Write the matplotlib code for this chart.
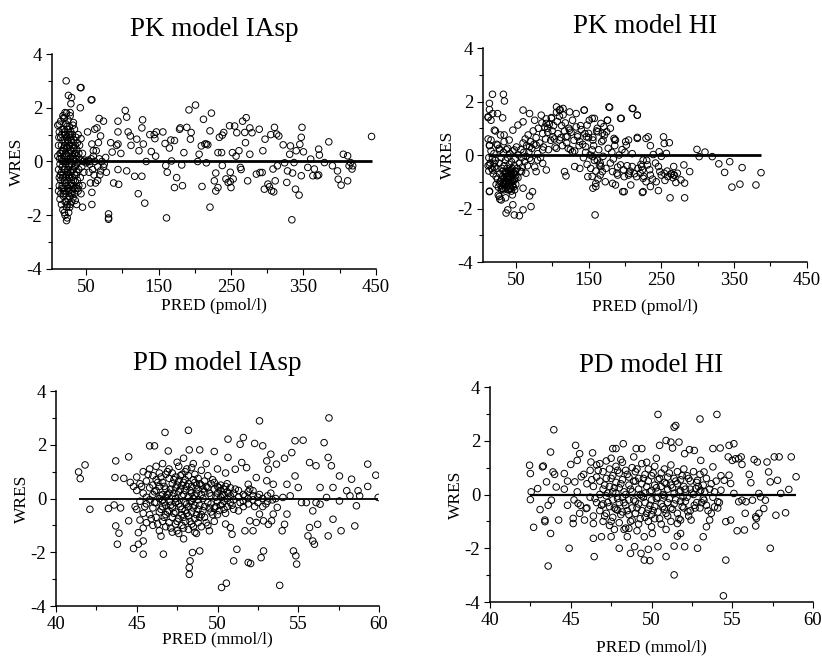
import numpy as np
import matplotlib
matplotlib.use("Agg")
import matplotlib.pyplot as plt
from matplotlib.ticker import MultipleLocator, FixedLocator

plt.rcParams['font.family'] = ['Liberation Serif', 'DejaVu Serif']
plt.rcParams['axes.unicode_minus'] = False

# (PRED, WRES) pairs, one list per panel

pk_iasp_points = [
    # dense cluster at low PRED
    (11, 1.35), (11, 0.2), (12, -0.3), (12, -1.1), (12, 0.6), (13, -0.6), (13, 1.1), (13, -0.9), (14, 0.3), (14, -1.4),
    (14, -0.1), (15, 0.9), (15, -0.7), (15, 1.5), (15, -1.2), (16, 0.1), (16, -0.4), (16, 0.6), (16, -1.6), (17, 1.2),
    (17, -0.2), (17, -0.9), (17, 0.4), (18, -1.8), (18, 0.8), (18, -0.5), (18, 1.7), (19, -1.3), (19, 0.0), (19, 0.5),
    (19, -1.0), (20, 1.6), (20, -0.7), (20, 0.2), (20, -1.9), (20, 1.1), (21, -0.3), (21, -1.5), (21, 0.7), (21, -2.0),
    (22, 1.4), (22, -0.1), (22, -0.8), (22, 0.3), (22, -1.2), (23, 1.8), (23, 0.9), (23, -0.5), (23, -1.7), (23, -2.2),
    (24, 0.0), (24, 1.2), (24, -1.0), (24, 0.5), (24, -2.1), (25, -0.3), (25, 0.75), (25, -1.4), (25, 1.55), (25, -0.7),
    (26, 0.2), (26, -1.1), (26, 1.0), (26, -1.9), (26, -0.2), (27, 0.6), (27, -0.6), (27, 1.3), (27, -1.3), (28, 0.1),
    (28, -0.9), (28, 0.9), (28, -1.6), (28, 1.7), (29, -0.4), (29, 0.4), (29, -1.2), (29, 1.1), (30, -0.8), (30, 0.7),
    (30, -0.1), (30, -1.5), (31, 1.0), (31, 0.2), (31, -0.6), (31, -1.05), (32, 0.5), (32, -0.3), (32, -1.35), (32, 1.35),
    (33, 0.0), (33, -0.9), (33, 0.8), (34, -0.5), (34, 1.2), (34, -1.2), (34, 0.3), (35, -0.15), (35, 0.6), (35, -0.75),
    (35, -1.45), (36, 0.9), (36, -1.0), (36, 0.1), (37, -0.4), (37, 0.45), (37, -1.6), (38, 0.7), (38, -0.7), (38, -0.05),
    (39, 1.0), (39, -1.1), (40, 0.3), (40, -0.3), (40, -0.9), (41, 0.6), (42, -0.6), (42, 0.05), (43, -1.2), (43, 0.85),
    (44, -0.2), (45, 0.3), (45, -0.9), (46, 0.0), (47, -0.4), (48, 0.05), (50, -0.05), (52, 0.0), (53, 0.05), (55, -0.1),
    (57, 0.1), (59, -0.3), (60, 0.2), (61, -0.5), (62, 0.0), (63, -0.8), (64, 0.4), (66, -0.2), (68, 0.1), (70, -0.35),
    (72, 0.0), (75, -0.1), (77, 0.15),
    (12.5, 0.9), (13.5, 0.1), (14.5, -0.5), (15.5, 0.3), (16.5, -1.0), (16.5, 1.0), (17.5, 0.0), (17.5, -0.6), (18.5, 0.4), (18.5, -1.2),
    (19.5, 1.2), (19.5, -0.3), (20.5, 0.6), (20.5, -1.1), (21.5, 0.0), (21.5, 1.0), (21.5, -0.6), (22.5, -1.5), (22.5, 0.5), (23.5, 0.2),
    (23.5, -0.9), (23.5, 1.3), (24.5, -0.4), (24.5, 0.8), (24.5, -1.6), (25.5, 0.3), (25.5, -1.0), (26.5, 0.6), (26.5, -0.5), (27.5, -0.1),
    (27.5, -1.7), (27.5, 1.0), (28.5, 0.4), (28.5, -0.4), (29.5, -0.9), (29.5, 0.8), (30.5, 0.2), (30.5, -1.2), (31.5, -0.3), (31.5, 0.6),
    (32.5, -0.7), (32.5, 0.1), (33.5, -1.0), (33.5, 0.5), (34.5, -0.2), (35.5, 0.3), (36.5, -0.5), (37.5, 0.2), (38.5, -1.0),
    # upper outliers near the cluster
    (22.5, 3.0), (42, 2.75), (25.6, 2.46), (30, 2.38), (29, 2.15), (57, 2.29), (42, 2.0), (21, 1.82), (19, 1.63), (13, 1.39),
    (28, 1.82), (32.5, 1.45),
    # spread out part
    (43, 2.75), (58, 2.3), (52, 1.1), (62, 1.2), (65, 1.25), (68, 1.6), (74, 1.5), (70, 0.95), (58, 0.65),
    (60, 0.4), (67, 0.7), (55, 0.0), (54, -0.4), (56, -0.8), (58, -1.15), (58, -1.6), (45, -1.7), (66, -0.7), (69, -0.5),
    (74, -0.2), (78, -0.4), (81, -1.95), (81, -2.15), (81, -2.1), (84, 0.7), (86, 0.35), (88, -0.8), (94, 1.5), (94, 1.1),
    (94, 0.65), (94, -0.3), (95, -0.85), (92, 0.6), (98, 0.3),
    (104, 1.9), (106, 1.65), (108, 1.1), (111, 0.95), (112, 0.6), (106, -0.35), (117, -0.55), (122, -1.2), (120, 0.83), (123, 0.4),
    (127, 1.25), (128, 1.55), (129, 0.65), (127, -0.55), (131, -1.55), (133, 0.0), (138, 1.0), (140, 0.37), (144, 1.0), (145, 0.85),
    (146, 0.2), (147, 1.1),
    (156, 1.1), (159, 0.67), (160, -0.15), (162, -0.4), (161, -2.1), (165, 0.5), (167, 0.8), (168, 0.02), (172, 0.78), (172, -0.97),
    (175, -0.6), (179, 1.2), (180, 1.25), (182, -0.13), (183, -0.9), (185, 0.33), (189, 1.27), (192, 1.92), (194, 0.83), (195, 1.08),
    (201, 2.1), (204, 0.0), (206, 0.27), (209, 0.58), (210, -0.93), (212, 1.57), (214, 0.65), (216, 0.65), (218, 0.62), (221, 1.14),
    (221, -1.7), (223, 1.8), (216, -0.05), (227, -0.72), (229, -0.43), (229, -1.1), (232, 0.33), (232, -0.97), (234, 0.9), (237, 0.33),
    (238, -0.15), (238, 0.98), (240, 1.08), (243, -0.65), (246, -0.78),
    (248, 1.33), (249, -0.4), (249, -0.75), (250, -0.97), (252, 0.33), (253, -0.65), (255, 1.32), (257, 0.2), (258, 1.07), (261, 0.4),
    (263, -0.22), (264, -0.3), (266, 1.5), (269, 1.08), (270, 0.7), (271, 1.63), (273, -0.72), (276, 0.27), (276, 1.25), (279, 1.07),
    (285, -0.47), (289, 1.2), (290, -0.41), (293, -0.41), (294, 0.4), (296, -1.03), (297, 0.83), (301, -0.84), (303, -0.94), (305, 1.0),
    (306, -1.09), (308, -0.28), (309, -1.13), (310, 1.27), (311, -0.72), (313, 1.02), (316, 0.95), (314, -0.16), (322, 0.62), (324, -0.05),
    (327, -0.78), (328, -0.35), (331, 0.27), (332, 0.58), (334, -2.17), (335, -0.43), (337, -0.04), (339, -1.03), (340, 0.4), (344, -1.25),
    (345, 0.64), (347, 0.9), (348, 1.27), (347, -0.53), (350, 0.36),
    (356, -0.22), (360, 0.09), (363, -0.53), (365, -0.28), (369, -0.53), (371, 0.46), (372, 0.24), (371, -0.5), (379, -0.04), (385, 0.73),
    (390, -0.16), (397, -0.35), (398, -0.66), (402, -0.88), (405, 0.27), (411, -0.72), (411, 0.21), (413, -0.16), (415, -0.04), (417, -0.28),
    (418, -0.16), (444, 0.93),
]

pk_hi_points = [
    # low PRED spread
    (12, 0.6), (12, -0.4), (12, 1.4), (13, -0.1), (13, -0.6), (14, 0.35), (14, -1.35), (15, -0.3), (16, 0.15), (17, -0.5),
    (18, -0.15), (19, -0.7), (20, 0.05), (21, -0.45), (22, 0.9), (23, -1.1), (24, 0.4), (26, -1.5), (27, 0.25), (28, -1.65),
    (29, 0.75), (31, -1.25), (34, 0.5), (36, -1.6),
    (18, 2.27), (33, 2.27), (34.4, 2.02), (13.8, 1.93), (13.8, 1.7), (18.3, 1.55), (25, 1.55), (32, 1.39), (16, 1.3), (12, 1.43),
    (20.6, 0.93), (34, 0.75), (16, 0.56), (13.8, 0.37), (25, 0.37), (41, 0.56), (46, 0.93), (53, 1.12), (60, 1.24), (60, 1.68),
    (69, 1.55), (76, 1.3), (85, 1.49), (92, 1.18), (99, 1.37), (106, 1.8), (110, 1.68), (115, 1.74), (124, 1.61), (133, 1.55),
    (144, 1.68), (151, 1.3), (158, 1.37), (167, 1.18), (176, 1.3), (178, 1.8), (194, 1.37), (210, 1.74), (217, 1.49), (94, 1.0),
    (101, 0.68), (110, 0.56), (119, 0.68), (124, 0.93), (135, 0.68), (138, 0.5), (147, 0.68), (156, 0.56), (163, 0.87), (170, 0.56),
    (186, 0.56), (201, 0.5), (217, 0.62), (229, 0.62), (69, 0.31), (78, 0.37), (87, 0.19), (106, 0.25), (122, 0.25), (128, 0.12),
    (48, 0.19), (39, 0.25), (28, 0.19), (13.8, -0.37), (20.6, -0.31), (18.3, -0.56), (23, -0.81), (27.5, -1.06), (32, -1.24), (39, -0.93),
    (36.7, -0.62), (43, -0.68), (50, -0.87), (43, -1.24), (45.4, -1.49), (27.5, -1.55), (30, -1.68), (13.8, -1.37), (39, -2.05), (36.7, -2.17),
    (48, -2.24), (55, -2.27), (60, -2.05), (46, -1.86), (71, -1.93), (69, -1.53), (73, -1.37), (60, -1.24), (58, -0.62), (64, -0.68),
    (78, -0.62), (92, -0.56), (87, -0.31), (80, -0.19), (69, -0.12), (117, -0.62), (119, -0.78), (131, -0.43), (138, -0.5), (149, -0.81),
    (160, -1.06), (156, -1.24), (165, -0.37), (183, -0.62), (190, -0.75), (187, -1.12), (205, -0.75), (216, -0.81), (224, -0.56), (199, -1.37),
    (225, -1.37),
    # dense mass
    (22, -0.2), (24, -0.5), (25, -0.9), (26, -1.2), (27, -0.3), (28, -0.7), (29, -1.0), (30, -1.3), (30, -0.1), (31, -0.5),
    (32, -0.8), (33, -1.1), (33, 0.1), (34, -0.4), (35, -0.65), (35, -0.95), (36, -1.25), (36, -0.2), (37, -0.8), (37, 0.2),
    (38, -0.5), (38, -1.0), (39, -1.3), (39, -0.1), (40, -0.7), (40, -0.9), (41, -1.15), (41, -0.35), (42, -0.6), (42, 0.05),
    (43, -0.85), (43, -1.05), (44, -0.25), (44, -1.35), (45, -0.75), (45, -0.5), (46, -1.0), (46, 0.15), (47, -0.65), (47, -1.2),
    (48, -0.4), (48, -0.9), (49, -0.15), (50, -0.75), (50, -1.1), (51, 0.3), (52, -0.5), (53, -0.85), (54, 0.0), (55, -0.3),
    (56, -0.6), (57, 0.2), (58, -0.1), (59, -0.45), (60, 0.45), (61, 0.1), (62, -0.25), (63, 0.6), (64, -0.05), (65, 0.35),
    (66, -0.4), (67, 0.75), (68, 0.1), (70, 0.5), (71, -0.2), (72, 0.25), (74, 0.9), (75, 0.4), (76, -0.45), (78, 0.65),
    (80, 0.05), (81, 1.0), (83, 0.45), (84, -0.1), (86, 1.2), (87, 0.8), (88, 0.3), (90, 1.05), (91, 0.6), (92, 1.35),
    (94, 0.85), (95, 0.2), (96, 1.15), (98, 0.55), (99, 1.4), (100, 0.9), (102, 1.1), (103, 0.6), (104, 0.3), (106, 1.6),
    (107, 1.25), (108, 0.8), (110, 1.45), (111, 1.7), (112, 0.65), (113, 1.1), (114, 0.35), (115, 1.5), (117, 0.9), (118, 1.2),
    (120, 0.45), (121, 0.7), (123, 1.0), (125, 0.2), (126, 0.85), (128, 1.3), (130, 0.55), (131, 0.15), (133, 1.05), (135, 0.75),
    (137, 0.35), (139, 1.1), (140, 0.95), (142, 0.4), (143, -0.1), (145, 0.8), (146, 0.1), (148, -0.35), (150, 0.65), (152, 0.0),
    (153, -0.5), (155, -0.8), (157, 0.35), (158, -0.2), (160, -0.6), (161, 0.9), (163, -0.9), (164, 0.2), (166, -0.3), (168, 0.5),
    (170, -0.05), (172, 0.75), (174, -0.5), (177, 0.25), (180, -0.3), (182, 0.1), (184, -0.15), (186, 0.35), (190, -0.45), (192, 0.0),
    (196, 0.2), (198, -0.55), (200, 0.1), (203, -0.4), (207, -0.6), (210, 0.05), (213, -0.7), (218, -0.5), (222, -0.35), (226, -0.8),
    (230, -0.2), (234, -0.55), (238, -0.9), (242, -0.3), (250, -0.05), (255, -0.95), (258, -0.6), (264, -0.7), (266, -0.85), (268, -0.75),
    (30.5, -0.9), (31.5, -1.15), (32.5, -0.6), (33.5, -1.3), (34.5, -0.85), (35.5, -1.1), (36.5, -0.7), (37.5, -1.2), (38.5, -0.9), (39.5, -0.6),
    (40.5, -1.05), (41.5, -0.8), (42.5, -1.25), (43.5, -0.55), (44.5, -0.95), (45.5, -1.15), (46.5, -0.7), (47.5, -0.95), (48.5, -1.3), (49.5, -0.6),
    (37, -1.0), (41, -1.3), (44, -0.7), (34, -1.0), (39, -0.8),
    # right part
    (156, 0.66), (179, 1.78), (211, 1.74), (217, 1.49), (195, 1.37), (176, 1.3), (180, 1.0), (185, 0.62), (187, 0.56), (202, 0.37),
    (205, 0.56), (217, 0.66), (232, 0.68), (235, 0.35), (247, 0.12), (253, 0.68), (254, 0.43), (261, 0.46), (257, 0.06), (267, -0.43),
    (272, -0.68), (262, -1.6), (282, -1.6), (282, -1.05), (281, -0.37), (289, -0.62), (299, 0.21), (302, -0.06), (310, 0.11), (320, -0.06),
    (329, -0.33), (337, -0.65), (344, -0.25), (347, -1.2), (358, -1.09), (361, -0.47), (380, -1.12), (387, -0.66), (246, -0.43), (248, -0.62),
    (243, -1.0), (246, -1.33), (235, -1.18), (229, -1.0), (224, -1.4), (208, -1.12), (197, -1.37), (221, -0.68), (223, -0.43), (210, -0.43),
    (206, -0.68), (199, -0.81), (194, -0.37), (189, -0.68), (183, -1.06), (173, -1.0), (169, -0.62), (166, -0.75), (160, -1.18), (159, -2.24),
    (167, -0.43), (162, -0.19), (156, -0.06), (155, 0.19), (146, 0.31), (150, 0.81), (148, 1.12), (144, 1.68), (155, 1.37), (162, 1.0),
    (169, 0.81), (171, 1.06), (175, 0.87), (225, -0.19), (239, 0.02), (254, -0.68), (259, -0.81), (267, -0.75), (277, -0.93), (270, -1.03),
    (263, -0.71), (250, -0.75), (235, -0.75), (231, -0.37), (225, -0.87),
]

pd_iasp_points = [
    # sparse points
    (41.4, 0.99), (41.5, 0.74), (41.8, 1.25), (42.1, -0.4), (43.25, -0.37), (43.6, -0.24), (43.7, 1.4), (43.65, 0.78), (43.7, -1.02), (43.9, -1.29),
    (43.8, -1.7), (44.5, 1.55), (44.5, -0.83), (44.8, -1.86), (45.1, -1.7), (45.4, -2.07), (45.1, -1.27), (45.4, -1.58), (45.8, 1.96), (46.1, 1.96),
    (46.65, -2.07), (46.75, 2.46), (46.95, 1.77), (48.2, 2.54), (48.25, 1.81), (48.3, -2.32), (48.25, -2.57), (48.25, -2.82), (48.45, -2.01), (48.9, 1.81),
    (48.9, -1.95), (49.8, 1.75), (50.25, -3.31), (50.55, -3.15), (50.65, 2.21), (50.65, 1.53), (51.0, -2.32), (51.2, -1.89), (51.4, 2.02), (51.6, 2.27),
    (51.9, -2.38), (52.05, -2.42), (52.3, 2.05), (52.6, 2.89), (52.8, 1.96), (52.85, -1.95), (52.7, -2.2), (53.05, 1.4), (53.3, 1.65), (53.85, -3.23),
    (54.15, 1.5), (54.6, 1.71), (54.8, 2.15), (54.7, -1.95), (54.85, -2.13), (54.9, -2.44), (55.3, 2.17), (55.6, -1.39), (55.7, -1.08), (55.9, -1.58),
    (56.0, -1.7), (55.7, 1.34), (56.1, 1.22), (56.6, 2.08), (56.85, 1.53), (56.9, 3.0), (56.85, -1.39), (57.05, 1.22), (57.15, -0.77), (57.55, 0.84),
    (57.65, -1.2), (58.3, 0.72), (58.5, -1.02), (58.7, 0.29), (59.3, 1.28), (59.3, 0.45), (59.8, 0.87), (59.95, 0.04), (58.8, 0.1), (58.6, -0.27),
    (58.2, 0.1), (58.0, 0.29), (57.55, -0.09), (57.15, 0.41), (56.75, 0.04), (56.35, -0.21), (56.2, -0.96), (56.35, 0.41), (56.1, -0.15), (55.9, -0.46),
    (55.5, -0.15), (55.2, -0.15), (55.0, 0.41), (54.8, 0.84), (54.5, 0.1), (54.3, 0.53), (54.05, 0.04), (54.3, -0.58), (54.15, -0.96), (54.0, -1.2),
    (53.7, -0.33), (53.45, -0.58), (53.35, -0.83), (53.15, -0.96), (52.85, -0.83), (52.6, -0.58), (52.4, -0.89), (52.2, -1.2), (52.0, -0.83), (51.7, -1.2),
    (52.2, 0.29), (51.9, 0.53), (52.4, 0.78), (53.05, 0.66), (53.45, 0.53), (53.65, 1.28), (53.15, 1.09), (51.8, 1.15), (51.5, 1.34), (51.1, 1.09),
    (51.3, -0.46), (50.8, -1.08), (50.9, -1.33),
    (44.6, 0.6), (44.8, 0.45), (44.9, -0.3), (44.2, 0.75), (44.0, -0.35),
    # dense core
    (45.0, 0.3), (45.0, -0.4), (45.0, 0.8), (45.2, -0.1), (45.2, 0.55), (45.2, -0.8), (45.4, 0.2), (45.4, -0.55), (45.4, 1.0), (45.4, -1.1),
    (45.6, 0.65), (45.6, -0.2), (45.6, 0.05), (45.6, -0.9), (45.8, 0.4), (45.8, -0.6), (45.8, 1.1), (45.8, -0.05), (46.0, 0.85), (46.0, 0.15),
    (46.0, -0.35), (46.0, -1.0), (46.0, 0.5), (46.2, -0.7), (46.2, 0.3), (46.2, 1.2), (46.2, -0.15), (46.2, 0.7), (46.4, 0.0), (46.4, -0.5),
    (46.4, 0.95), (46.4, -1.2), (46.4, 0.45), (46.6, 0.6), (46.6, -0.3), (46.6, 0.15), (46.6, -0.85), (46.6, 1.3), (46.6, -0.05), (46.8, -0.6),
    (46.8, 0.35), (46.8, 0.9), (46.8, -1.05), (46.8, 0.05), (46.8, -0.25), (47.0, 0.75), (47.0, -0.45), (47.0, 0.2), (47.0, -0.9), (47.0, 1.1),
    (47.0, -0.1), (47.2, 0.1), (47.2, -0.7), (47.2, 0.55), (47.2, -1.25), (47.2, 0.95), (47.2, -0.35), (47.4, -0.15), (47.4, 0.4), (47.4, -0.95),
    (47.4, 0.8), (47.4, -0.5), (47.4, 0.0), (47.6, 0.65), (47.6, -1.3), (47.6, -0.2), (47.6, 0.25), (47.6, -0.75), (47.6, 1.2), (47.8, -0.4),
    (47.8, 0.1), (47.8, 0.5), (47.8, -1.0), (47.8, 0.9), (47.8, -0.6), (48.0, 0.3), (48.0, -0.15), (48.0, -0.85), (48.0, 0.7), (48.0, 1.0),
    (48.0, -0.45), (48.2, -0.3), (48.2, 0.55), (48.2, -1.15), (48.2, 0.05), (48.2, 0.85), (48.2, -0.65), (48.4, 0.2), (48.4, -0.5), (48.4, 0.45),
    (48.4, -0.95), (48.4, 1.15), (48.4, -0.1), (48.6, -0.25), (48.6, 0.6), (48.6, -0.75), (48.6, 0.1), (48.6, -1.25), (48.6, 0.9), (48.8, 0.35),
    (48.8, -0.4), (48.8, 0.75), (48.8, -0.05), (48.8, -0.9), (49.0, -0.6), (49.0, 0.15), (49.0, 0.5), (49.0, -1.05), (49.0, 1.05), (49.2, 0.25),
    (49.2, -0.3), (49.2, -0.7), (49.2, 0.65), (49.4, -0.15), (49.4, 0.4), (49.4, -1.0), (49.4, 0.85), (49.6, 0.1), (49.6, -0.5), (49.6, 0.55),
    (49.6, -0.2), (49.8, 0.35), (49.8, -0.35), (49.8, -0.85), (49.8, 0.6), (50.0, -0.1), (50.0, 0.2), (50.0, 0.45), (50.0, -0.6), (50.2, 0.3),
    (50.2, -0.25), (50.2, 0.05), (50.2, 0.5), (50.4, -0.4), (50.4, 0.15), (50.4, 0.35), (50.4, -0.1), (50.6, 0.25), (50.6, -0.3), (50.6, 0.55),
    (50.6, 0.0), (50.8, 0.1), (50.8, -0.15), (50.8, 0.4), (51.0, 0.2), (51.0, -0.05), (51.0, -0.4), (51.3, 0.05), (51.3, 0.3), (51.6, -0.1),
    (51.6, 0.15), (51.6, -0.3), (51.9, 0.0), (51.9, -0.2), (51.9, 0.25), (52.2, -0.05), (52.2, 0.1), (52.5, -0.15), (52.5, 0.05), (52.8, 0.0),
    (52.8, -0.3), (53.1, -0.1), (53.1, 0.1), (53.4, -0.05),
    (45.3, 0.45), (45.5, -0.3), (45.7, 0.9), (45.9, -0.75), (46.1, 0.25), (46.1, -0.15), (46.3, 0.6), (46.3, -0.95), (46.5, 0.1), (46.5, -0.4),
    (46.5, 0.8), (46.7, -0.7), (46.7, 0.45), (46.7, -0.15), (46.9, 1.0), (46.9, -0.5), (46.9, 0.15), (47.1, -1.1), (47.1, 0.35), (47.1, -0.25),
    (47.3, 0.7), (47.3, -0.55), (47.3, 0.2), (47.5, -0.85), (47.5, 0.5), (47.5, -0.1), (47.5, -1.2), (47.7, 0.35), (47.7, -0.3), (47.7, 0.85),
    (47.9, -0.7), (47.9, 0.15), (47.9, -1.1), (47.9, 0.6), (48.1, -0.2), (48.1, 0.45), (48.1, -0.55), (48.1, 1.1), (48.3, -0.85), (48.3, 0.3),
    (48.3, -0.1), (48.5, 0.7), (48.5, -0.35), (48.5, -1.05), (48.5, 0.0), (48.7, 0.5), (48.7, -0.6), (48.7, 0.2), (48.9, -0.25), (48.9, 0.55),
    (48.9, -0.7), (49.1, 0.35), (49.1, -0.45), (49.1, 0.0), (49.3, -0.9), (49.3, 0.45), (49.5, 0.2), (49.5, -0.35), (49.7, 0.7), (49.7, -0.6),
    (49.9, 0.05), (49.9, -0.3), (50.1, 0.4), (50.1, -0.45), (50.3, 0.15), (50.3, -0.2), (50.5, 0.45), (50.5, -0.55), (50.7, 0.2), (50.9, -0.25),
    (51.1, 0.35), (51.4, -0.15), (51.7, 0.1), (52.0, 0.35), (52.3, -0.3), (52.6, 0.15), (53.0, -0.2), (53.3, 0.2), (53.6, 0.0), (47.5, 1.35),
    (47.9, 1.5), (48.5, 1.3), (46.5, -1.4), (47.9, -1.5), (48.7, -1.3), (49.5, -1.2), (49.3, 1.3), (50.0, 1.1), (50.5, 0.95), (50.5, -0.95),
]

pd_hi_points = [
    # sparse points
    (42.45, 1.09), (42.5, 0.78), (42.5, -0.19), (42.55, 0.1), (42.7, -1.22), (42.95, 0.22), (43.1, -0.56), (43.25, 1.03), (43.3, 1.06), (43.4, -0.95),
    (43.4, -1.01), (43.5, 0.47), (43.6, -0.4), (43.6, -2.66), (43.75, -1.45), (43.75, 1.58), (43.8, -0.21), (43.9, 0.84), (43.95, 2.41), (44.0, 0.75),
    (44.1, 0.28), (44.25, -0.95), (44.6, 0.78), (44.8, -0.4), (44.9, -2.0), (45.0, 1.12), (45.15, -1.08), (45.15, -0.89), (45.25, 0.47), (45.3, 1.83),
    (45.4, 1.27), (45.55, 1.52), (45.45, -0.33), (45.55, -0.7), (45.65, 0.66), (45.85, -0.95), (45.95, -0.52), (46.25, 1.21), (46.35, 1.55), (46.4, -1.63),
    (46.45, -2.31), (46.4, -1.08), (46.8, 1.15), (46.9, -1.57), (47.5, -1.57), (47.6, 1.71), (47.8, 1.71), (47.9, -0.58), (48.0, -2.0), (48.25, 1.89),
    (48.5, -1.57), (48.6, -1.26), (48.7, -2.19), (48.95, -1.94), (49.05, 1.71), (49.35, -2.19), (49.4, 1.71), (49.55, -2.44), (49.8, -2.04), (49.9, -2.46),
    (49.55, -1.57), (50.05, -1.45), (50.4, 2.98), (50.4, -1.94), (50.5, 1.83), (50.9, -2.31), (50.9, 2.01), (51.2, 1.95), (51.3, 1.73), (51.4, 2.51),
    (51.5, 2.57), (51.7, 1.95), (51.4, -2.99), (51.4, -1.92), (51.6, -1.55), (51.8, -1.45), (52.05, -1.94), (52.05, 1.52), (52.35, 1.67), (52.65, 1.64),
    (52.85, -2.0), (53.0, 2.81), (52.75, 0.22), (53.05, 1.27), (53.25, 0.84), (53.8, 1.03), (53.8, 1.71), (54.05, 2.98), (54.25, 1.73), (54.6, -2.44),
    (54.45, -3.77), (54.6, -1.01), (54.75, 1.4), (54.8, 1.83), (54.8, 0.72), (54.9, -0.95), (55.0, 1.27), (55.1, 1.89), (55.2, 1.33), (55.3, -1.35),
    (55.4, 1.33), (55.55, 1.4), (55.6, 1.12), (55.75, -1.32), (55.8, -0.7), (55.85, -0.27), (56.05, 0.75), (56.15, 0.44), (56.25, -0.21), (56.35, 1.3),
    (56.45, -0.83), (56.5, -0.89), (56.45, -1.17), (56.55, 1.21), (56.65, 0.04), (56.65, -0.7), (56.75, -0.09), (56.95, -0.52), (57.05, -0.21), (57.15, 1.21),
    (57.25, 0.84), (57.35, 0.47), (57.35, -2.0), (57.6, 1.4), (57.7, -0.77), (57.8, 0.53), (57.9, 1.4), (58.0, 0.04), (58.3, -0.68), (58.5, 0.19),
    (58.65, 1.4), (58.95, 0.66), (55.1, 0.04), (55.4, -0.27), (55.6, -0.21), (54.9, 0.41), (54.5, 0.53), (54.3, 0.16), (54.1, -0.27), (53.9, -0.46),
    (53.7, -0.7), (53.6, -0.95), (53.4, -1.2), (53.2, -1.57), (53.25, -0.21), (53.05, 0.16), (52.85, 0.53), (52.65, -0.4), (52.45, -0.95), (52.25, -0.64),
    (51.95, -0.09), (51.8, -0.95), (51.6, -1.08),
    # dense core
    (46.0, 0.4), (46.0, -0.5), (46.2, 0.9), (46.2, -0.1), (46.4, 0.3), (46.4, -0.8), (46.6, 0.65), (46.6, -0.3), (46.6, 1.1), (46.8, 0.0),
    (46.8, -0.6), (46.8, 0.5), (47.0, -1.0), (47.0, 0.2), (47.0, 0.85), (47.0, -0.35), (47.2, 0.6), (47.2, -0.7), (47.2, -0.05), (47.2, 1.25),
    (47.4, 0.3), (47.4, -0.45), (47.4, 0.95), (47.4, -1.15), (47.6, 0.1), (47.6, -0.2), (47.6, 0.7), (47.6, -0.85), (47.8, 0.45), (47.8, -0.55),
    (47.8, 1.05), (47.8, 0.05), (48.0, -0.3), (48.0, 0.8), (48.0, -1.05), (48.0, 0.25), (48.2, 0.55), (48.2, -0.65), (48.2, -0.1), (48.2, 1.2),
    (48.4, 0.0), (48.4, 0.9), (48.4, -0.4), (48.4, -1.25), (48.6, 0.35), (48.6, -0.75), (48.6, 0.65), (48.6, -0.2), (48.8, 1.0), (48.8, 0.1),
    (48.8, -0.5), (48.8, -0.95), (49.0, 0.5), (49.0, -0.25), (49.0, 0.85), (49.0, -0.7), (49.2, 0.2), (49.2, -1.1), (49.2, 0.6), (49.2, -0.35),
    (49.4, 1.15), (49.4, -0.05), (49.4, -0.6), (49.4, 0.4), (49.6, -0.85), (49.6, 0.75), (49.6, 0.05), (49.6, -0.3), (49.8, 0.5), (49.8, -0.55),
    (49.8, 0.95), (49.8, -1.0), (50.0, 0.15), (50.0, -0.2), (50.0, 0.7), (50.0, -0.75), (50.2, 0.35), (50.2, -0.45), (50.2, -0.9), (50.2, 1.05),
    (50.4, -0.1), (50.4, 0.55), (50.4, -0.65), (50.4, 0.1), (50.6, 0.8), (50.6, -0.35), (50.6, -1.1), (50.6, 0.3), (50.8, -0.55), (50.8, 0.45),
    (50.8, -0.05), (50.8, 0.95), (51.0, 0.2), (51.0, -0.8), (51.0, 0.65), (51.0, -0.3), (51.2, -0.5), (51.2, 0.35), (51.2, 1.1), (51.2, -1.0),
    (51.4, 0.05), (51.4, 0.6), (51.4, -0.35), (51.6, 0.4), (51.6, -0.7), (51.6, 0.85), (51.8, 0.15), (51.8, -0.25), (51.8, 0.55), (52.0, -0.5),
    (52.0, 0.3), (52.0, 0.95), (52.2, -0.1), (52.2, 0.7), (52.4, 0.2), (52.4, -0.6), (52.4, 0.5), (52.6, 0.0), (52.6, 0.85), (52.8, -0.3),
    (52.8, 0.45), (53.0, 0.1), (53.0, -0.5), (53.0, 0.75), (53.2, -0.15), (53.2, 0.35), (53.4, 0.6), (53.4, -0.4), (53.6, 0.2), (53.8, -0.1),
    (54.0, 0.5), (54.2, -0.3), (44.6, 0.2), (44.8, 0.5), (45.2, -0.2), (45.4, 0.1), (45.6, -0.4), (45.8, 0.75),
    (46.3, 0.55), (46.5, -0.15), (46.7, 0.9), (46.9, -0.4), (47.1, 0.35), (47.1, -0.8), (47.3, 0.05), (47.3, -0.3), (47.5, 0.6), (47.5, -1.0),
    (47.7, 0.25), (47.7, -0.5), (47.9, 0.9), (47.9, -0.15), (48.1, 0.4), (48.1, -0.75), (48.3, 0.1), (48.3, -0.3), (48.5, 0.75), (48.5, -0.6),
    (48.7, 0.2), (48.7, -1.0), (48.9, 0.5), (48.9, -0.2), (49.1, 0.95), (49.1, -0.5), (49.3, 0.0), (49.3, -0.9), (49.5, 0.6), (49.5, -0.1),
    (49.7, 0.3), (49.7, -0.7), (49.9, 0.1), (49.9, -0.4), (50.1, 0.8), (50.1, -0.6), (50.3, 0.25), (50.3, -0.15), (50.5, 0.6), (50.5, -0.9),
    (50.7, 0.0), (50.7, -0.45), (50.9, 0.4), (50.9, -0.7), (51.1, 0.8), (51.1, -0.15), (51.3, 0.25), (51.3, -0.55), (51.5, 0.5), (51.5, -0.2),
    (51.7, -0.9), (51.7, 0.1), (51.9, 0.7), (51.9, -0.45), (52.1, 0.2), (52.1, -0.25), (52.3, 0.6), (52.3, -0.8), (52.5, 0.05), (52.7, -0.5),
    (52.9, 0.3), (53.1, -0.3), (53.3, 0.1), (53.5, -0.6), (53.7, 0.4), (53.9, 0.1), (54.1, -0.5), (54.3, 0.7), (47.5, 1.35), (48.1, 1.3),
    (48.9, 1.4), (49.7, 1.2), (50.3, 1.35), (48.3, -1.3), (49.1, -1.35), (50.0, -1.2), (47.7, -1.3), (50.9, -1.3),
]

panels = [
    ("PK model IAsp", pk_iasp_points, "PRED (pmol/l)"),
    ("PK model HI", pk_hi_points, "PRED (pmol/l)"),
    ("PD model IAsp", pd_iasp_points, "PRED (mmol/l)"),
    ("PD model HI", pd_hi_points, "PRED (mmol/l)"),
]

# axes boxes [left, bottom, width, height] in figure fraction
boxes = [
    [0.0633, 0.5906, 0.394, 0.3272],
    [0.5876, 0.6012, 0.394, 0.3257],
    [0.0681, 0.0776, 0.393, 0.3272],
    [0.5961, 0.0837, 0.393, 0.3272],
]
title_pads = [13, 11, 15, 11]
xlabel_y = [-0.135, -0.173, -0.116, -0.172]
zero_lw = [2.0, 2.0, 1.3, 1.6]

fig = plt.figure(figsize=(8.22, 6.57), dpi=100)

for i, (title, pts, xlab) in enumerate(panels):
    ax = fig.add_axes(boxes[i])
    pts = np.array(pts)
    pred, wres = pts[:, 0], pts[:, 1]
    ax.scatter(pred, wres, s=22, facecolors='none', edgecolors='black', linewidths=0.7, zorder=2)
    ax.hlines(0, pred.min(), pred.max(), colors='black', linewidth=zero_lw[i], zorder=3)

    ax.set_ylim(-4, 4)
    ax.yaxis.set_major_locator(FixedLocator([-4, -2, 0, 2, 4]))
    ax.yaxis.set_minor_locator(FixedLocator([-3, -1, 1, 3]))
    if i < 2:
        ax.set_xlim(3 if i == 0 else 5, 450)
        ax.xaxis.set_major_locator(FixedLocator([50, 150, 250, 350, 450]))
        ax.xaxis.set_minor_locator(FixedLocator([100, 200, 300, 400]))
    else:
        ax.set_xlim(40, 60)
        ax.xaxis.set_major_locator(MultipleLocator(5))
        ax.xaxis.set_minor_locator(MultipleLocator(2.5))

    for s in ['top', 'right']:
        ax.spines[s].set_visible(False)
    for s in ['left', 'bottom']:
        ax.spines[s].set_linewidth(1.1)
    ax.tick_params(which='major', direction='out', length=4, width=0.8, labelsize=13.5, pad=3)
    ax.tick_params(which='minor', direction='out', length=3, width=0.8)

    ax.set_title(title, fontsize=19.5, pad=title_pads[i])
    ax.set_ylabel("WRES", fontsize=12.5)
    ax.yaxis.set_label_coords(-0.082, 0.5)
    ax.set_xlabel(xlab, fontsize=12.5)
    ax.xaxis.set_label_coords(0.5, xlabel_y[i])

fig.savefig("out.png", dpi=100)
